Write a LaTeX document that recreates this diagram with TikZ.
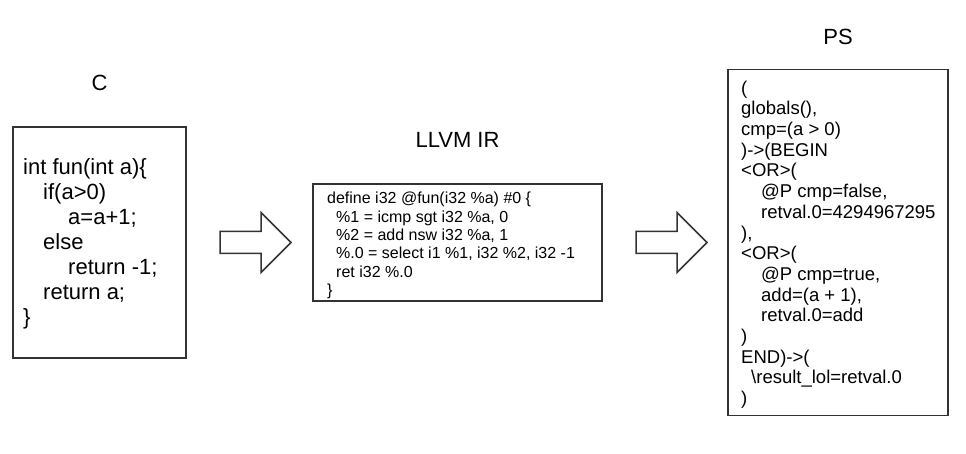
\documentclass[tikz,border=0pt]{standalone}
\usepackage{fontspec}
\setmainfont{Liberation Sans}
\usetikzlibrary{positioning}
\tikzset{
  doboz/.style={draw=black!80,line width=1.5pt,inner sep=0pt,outer sep=0pt},
  cim/.style={inner sep=0pt,font=\fontsize{22}{26}\selectfont},
  kod/.style={inner sep=0pt,align=left,anchor=north west},
  nyil/.pic={\draw[draw=black!80,line width=1.5pt,fill=white,line join=miter]
    (0,-11) -- (41,-11) -- (41,-30) -- (71,0) -- (41,30) -- (41,11) -- (0,11) -- cycle;},
}

\begin{document}
\begin{tikzpicture}[x=1pt,y=-1pt]
  \useasboundingbox (0,0) rectangle (966,454);
  % C forras
  \node[doboz,anchor=north west,minimum width=173pt,minimum height=231pt] (cbox) at (13,127) {};
  \node[cim,above=36pt of cbox] (clab) {C};
  \node[kod,font=\fontsize{22}{25}\selectfont,below right=31.5pt and 10pt of cbox.north west] (ckod)
    {int fun(int a)\{\\
     \hspace*{20pt}if(a>0)\\
     \hspace*{45pt}a=a+1;\\
     \hspace*{20pt}else\\
     \hspace*{45pt}return -1;\\
     \hspace*{20pt}return a;\\
     \}};
  \coordinate[right=34pt of cbox] (n1);
  \pic at (n1) {nyil};
  % LLVM IR
  \node[doboz,minimum width=289pt,minimum height=117pt,right=127pt of cbox] (llvm) {};
  \node[cim,above=36pt of llvm] (llab) {LLVM IR};
  \node[kod,font=\fontsize{16}{18.4}\selectfont,below right=8pt and 14pt of llvm.north west] (lkod)
    {define i32 @fun(i32 \%a) \#0 \{\\
     \hspace*{9pt}\%1 = icmp sgt i32 \%a, 0\\
     \hspace*{9pt}\%2 = add nsw i32 \%a, 1\\
     \hspace*{9pt}\%.0 = select i1 \%1, i32 \%2, i32 -1\\
     \hspace*{9pt}ret i32 \%.0\\
     \}};
  \coordinate[right=34pt of llvm] (n2);
  \pic at (n2) {nyil};
  % PS
  \node[doboz,minimum width=220pt,minimum height=346pt,right=126pt of llvm] (ps) {};
  \node[cim,above=24.5pt of ps] (plab) {PS};
  \node[kod,font=\fontsize{18.5}{20.7}\selectfont,below right=11pt and 13pt of ps.north west] (pkod)
    {(\\
     globals(),\\
     cmp=(a > 0)\\
     )->(BEGIN\\
     <OR>(\\
     \hspace*{20pt}@P cmp=false,\\
     \hspace*{20pt}retval.0=4294967295\\
     ),\\
     <OR>(\\
     \hspace*{20pt}@P cmp=true,\\
     \hspace*{20pt}add=(a + 1),\\
     \hspace*{20pt}retval.0=add\\
     )\\
     END)->(\\
     \hspace*{10pt}\textbackslash result\_lol=retval.0\\
     )};
\end{tikzpicture}
\end{document}
